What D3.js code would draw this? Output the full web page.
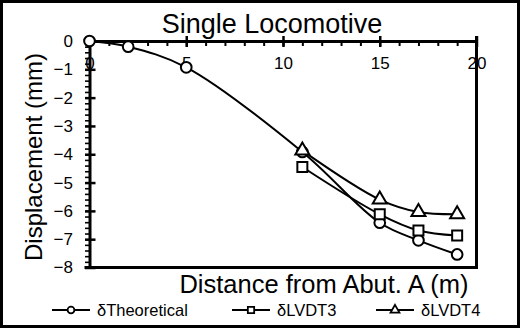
<!DOCTYPE html>
<html>
<head>
<meta charset="utf-8">
<script src="https://cdn.jsdelivr.net/npm/d3@7"></script>
<style>
  body { margin: 0; background: #fff; }
  svg { display: block; font-family: "Liberation Sans", Arial, sans-serif; }
  .axis path, .axis line { stroke: #000; }
</style>
</head>
<body>
<script>
// data (distance in m, displacement in mm)
const theoX = [0, 2, 5, 11, 15, 17, 19];
const theoY = [0, -0.2, -0.93, -3.92, -6.42, -7.04, -7.54];
const lvdt3X = [11, 15, 17, 19];
const lvdt3Y = [-4.45, -6.12, -6.69, -6.87];
const lvdt4X = [11, 15, 17, 19];
const lvdt4Y = [-3.87, -5.6, -6.04, -6.12];
const xTicks = [0, 5, 10, 15, 20];
const yTicks = [0, -1, -2, -3, -4, -5, -6, -7, -8];
const seriesNames = ["\u03B4Theoretical", "\u03B4LVDT3", "\u03B4LVDT4"];

function main() {
    const W = 520, H = 328;
    const svg = d3.select("body").append("svg")
        .attr("width", W)
        .attr("height", H);

    svg.append("rect")
        .attr("x", 1.5).attr("y", 1.5)
        .attr("width", W - 3).attr("height", H - 3)
        .attr("fill", "#fff").attr("stroke", "#000").attr("stroke-width", 3);

    const x = d3.scaleLinear().domain([0, 20]).range([89.5, 476.5]);
    const y = d3.scaleLinear().domain([-8, 0]).range([267.5, 41]);

    // plot frame right + bottom
    svg.append("line")
        .attr("x1", x(20)).attr("x2", x(20))
        .attr("y1", y(0) - 5).attr("y2", y(-8) + 1.5)
        .attr("stroke", "#000").attr("stroke-width", 3);
    svg.append("line")
        .attr("x1", x(0) - 5).attr("x2", x(20) + 1.5)
        .attr("y1", y(-8)).attr("y2", y(-8))
        .attr("stroke", "#000").attr("stroke-width", 3);

    // x minor ticks (point into the plot)
    svg.append("g").attr("class", "axis")
        .attr("transform", "translate(0," + y(0) + ")")
        .call(d3.axisBottom(x).tickValues(d3.range(0, 21, 1)).tickSize(5).tickFormat(""))
        .call(g => g.selectAll("line").attr("stroke-width", 2))
        .call(g => g.select(".domain").remove());
    // x major ticks crossing the axis
    svg.append("g").attr("class", "axis")
        .attr("transform", "translate(0," + y(0) + ")")
        .call(d3.axisTop(x).tickValues(xTicks).tickSize(5).tickFormat(""))
        .call(g => g.selectAll("line").attr("stroke-width", 2.5))
        .call(g => g.select(".domain").remove());
    svg.append("g").attr("class", "axis")
        .attr("transform", "translate(0," + y(0) + ")")
        .call(d3.axisBottom(x).tickValues(xTicks).tickSize(6).tickPadding(10).tickSizeOuter(0))
        .call(g => g.select(".domain").attr("stroke-width", 3))
        .call(g => g.selectAll("line").attr("stroke-width", 2.5))
        .call(g => g.selectAll("text").attr("font-size", 17).attr("fill", "#000")
            .attr("font-family", "Liberation Sans, Arial, sans-serif"));

    // y minor ticks (point outward)
    svg.append("g").attr("class", "axis")
        .attr("transform", "translate(" + x(0) + ",0)")
        .call(d3.axisLeft(y).tickValues(d3.range(-8, 0.01, 0.2)).tickSize(4.5).tickFormat(""))
        .call(g => g.selectAll("line").attr("stroke-width", 1.6))
        .call(g => g.select(".domain").remove());
    svg.append("g").attr("class", "axis")
        .attr("transform", "translate(" + x(0) + ",0)")
        .call(d3.axisRight(y).tickValues(yTicks).tickSize(6).tickFormat(""))
        .call(g => g.selectAll("line").attr("stroke-width", 2.5))
        .call(g => g.select(".domain").remove());
    svg.append("g").attr("class", "axis")
        .attr("transform", "translate(" + x(0) + ",0)")
        .call(d3.axisLeft(y).tickValues(yTicks).tickSize(4.5).tickPadding(12).tickSizeOuter(0))
        .call(g => g.select(".domain").attr("stroke-width", 3))
        .call(g => g.selectAll("line").attr("stroke-width", 2.5))
        .call(g => g.selectAll("text").attr("font-size", 17).attr("fill", "#000")
            .attr("font-family", "Liberation Sans, Arial, sans-serif"));

    // titles
    svg.append("text")
        .attr("x", 272).attr("y", 33)
        .attr("text-anchor", "middle")
        .attr("font-size", 27)
        .text("Single Locomotive");
    svg.append("text")
        .attr("x", 324).attr("y", 293)
        .attr("text-anchor", "middle")
        .attr("font-size", 25.5)
        .text("Distance from Abut. A (m)");
    svg.append("text")
        .attr("transform", "translate(42,157) rotate(-90)")
        .attr("text-anchor", "middle")
        .attr("font-size", 24)
        .text("Displacement (mm)");

    const series = [
        { name: seriesNames[0], xs: theoX, ys: theoY, shape: "circle" },
        { name: seriesNames[1], xs: lvdt3X, ys: lvdt3Y, shape: "square" },
        { name: seriesNames[2], xs: lvdt4X, ys: lvdt4Y, shape: "triangle" }
    ];

    const line = d3.line()
        .x(d => x(d[0]))
        .y(d => y(d[1]))
        .curve(d3.curveCatmullRom.alpha(0.5));

    function marker(g, shape, size, sw) {
        let sym;
        if (shape === "circle") sym = d3.symbolCircle;
        else if (shape === "square") sym = d3.symbolSquare;
        else sym = d3.symbolTriangle;
        return g.append("path")
            .attr("d", d3.symbol().type(sym).size(size)())
            .attr("fill", "#fff")
            .attr("stroke", "#000")
            .attr("stroke-width", sw);
    }
    const sizes = { circle: 90, square: 100, triangle: 85 };

    series.forEach(s => {
        const pts = s.xs.map((v, i) => [v, s.ys[i]]);
        svg.append("path")
            .attr("d", line(pts))
            .attr("fill", "none")
            .attr("stroke", "#000")
            .attr("stroke-width", 2);
    });
    series.forEach(s => {
        s.xs.forEach((v, i) => {
            const g = svg.append("g")
                .attr("transform", "translate(" + x(v) + "," + y(s.ys[i]) + ")");
            marker(g, s.shape, sizes[s.shape], 2);
        });
    });

    // legend
    const legX = [52, 232, 376];
    series.forEach((s, i) => {
        const g = svg.append("g").attr("transform", "translate(" + legX[i] + ",310)");
        g.append("line")
            .attr("x1", 0).attr("x2", 38)
            .attr("stroke", "#000").attr("stroke-width", 2);
        const m = g.append("g").attr("transform", "translate(19,0)");
        marker(m, s.shape, sizes[s.shape] * 0.4, 1.8);
        g.append("text")
            .attr("x", 45).attr("y", 6)
            .attr("font-size", 16.5)
            .text(s.name);
    });
}
main();
</script>
</body>
</html>
